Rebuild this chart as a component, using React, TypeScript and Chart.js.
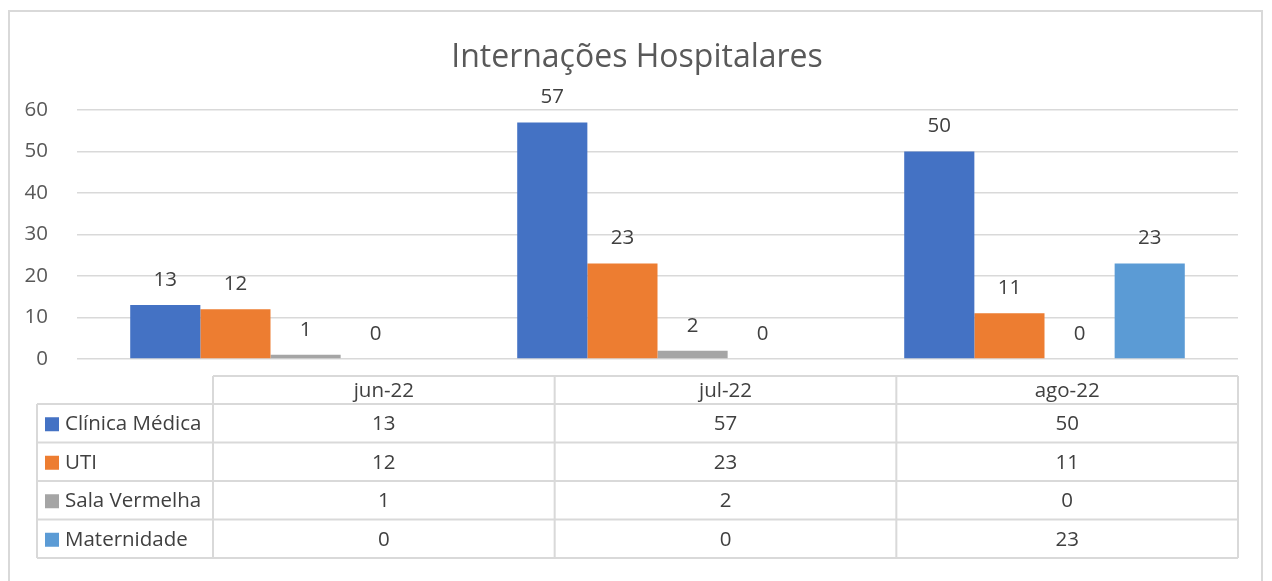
import React, { useEffect, useRef } from "react";
import { Chart, registerables } from "chart.js";

Chart.register(...registerables);

const categories = ["jun-22", "jul-22", "ago-22"];
const seriesNames = ["Clínica Médica", "UTI", "Sala Vermelha", "Maternidade"];
const clinicaMedica = [13, 57, 50];
const uti = [12, 23, 11];
const salaVermelha = [1, 2, 0];
const maternidade = [0, 0, 23];
const seriesColors = ["#4472C4", "#ED7D31", "#A5A5A5", "#5B9BD5"];
const titleText = "Internações Hospitalares";

const FONT = "'Open Sans', sans-serif";
const TEXT_SIZE = 20.5;
const TEXT_COLOR = "#404040";
const LINE_COLOR = "#D9D9D9";

const framePlugin = {
  id: "frame",
  beforeDraw(chart: any) {
    const ctx = chart.ctx;
    ctx.save();
    ctx.fillStyle = "#FFFFFF";
    ctx.fillRect(0, 0, chart.width, chart.height);
    ctx.strokeStyle = LINE_COLOR;
    ctx.lineWidth = 2;
    ctx.strokeRect(9, 11, chart.width - 19, chart.height + 10);
    ctx.font = `32px ${FONT}`;
    ctx.fillStyle = "#595959";
    ctx.textAlign = "center";
    ctx.textBaseline = "alphabetic";
    ctx.fillText(titleText, chart.width / 2 + 1, 67);
    ctx.restore();
  },
};

const valueLabelPlugin = {
  id: "valueLabels",
  afterDatasetsDraw(chart: any) {
    const ctx = chart.ctx;
    ctx.save();
    ctx.font = `${TEXT_SIZE}px ${FONT}`;
    ctx.fillStyle = TEXT_COLOR;
    ctx.textAlign = "center";
    ctx.textBaseline = "middle";
    chart.data.datasets.forEach((ds: any, di: number) => {
      const meta = chart.getDatasetMeta(di);
      meta.data.forEach((el: any, i: number) => {
        ctx.fillText(String(ds.data[i]), el.x, el.y - 25);
      });
    });
    ctx.restore();
  },
};

const dataTablePlugin = {
  id: "dataTable",
  afterDraw(chart: any) {
    const ctx = chart.ctx;
    const area = chart.chartArea;
    const right = area.right;
    const colStart = 213;
    const labelLeft = 37;
    const colW = (right - colStart) / categories.length;
    const headTop = area.bottom + 17;
    const headBottom = headTop + 28;
    const rowH = 38.5;
    const tableBottom = headBottom + rowH * seriesNames.length;

    ctx.save();
    ctx.strokeStyle = LINE_COLOR;
    ctx.lineWidth = 2;
    ctx.beginPath();
    ctx.moveTo(colStart, headTop);
    ctx.lineTo(right, headTop);
    for (let r = 0; r <= seriesNames.length; r++) {
      const y = headBottom + r * rowH;
      ctx.moveTo(labelLeft, y);
      ctx.lineTo(right, y);
    }
    ctx.moveTo(labelLeft, headBottom);
    ctx.lineTo(labelLeft, tableBottom);
    for (let c = 0; c <= categories.length; c++) {
      const x = colStart + c * colW;
      ctx.moveTo(x, headTop);
      ctx.lineTo(x, tableBottom);
    }
    ctx.stroke();

    ctx.font = `${TEXT_SIZE}px ${FONT}`;
    ctx.fillStyle = TEXT_COLOR;
    ctx.textBaseline = "middle";
    ctx.textAlign = "center";
    categories.forEach((c, i) => {
      ctx.fillText(c, colStart + colW * (i + 0.5), (headTop + headBottom) / 2 + 1);
    });
    chart.data.datasets.forEach((ds: any, r: number) => {
      const cy = headBottom + rowH * (r + 0.5) + 1;
      ctx.fillStyle = ds.backgroundColor;
      ctx.fillRect(45, cy - 7, 14, 14);
      ctx.fillStyle = TEXT_COLOR;
      ctx.textAlign = "left";
      ctx.fillText(ds.label, 65, cy);
      ctx.textAlign = "center";
      ds.data.forEach((v: number, i: number) => {
        ctx.fillText(String(v), colStart + colW * (i + 0.5), cy);
      });
    });
    ctx.restore();
  },
};

export default function App() {
  const ref = useRef<HTMLCanvasElement | null>(null);

  useEffect(() => {
    if (!ref.current) return;
    const seriesValues = [clinicaMedica, uti, salaVermelha, maternidade];
    const chart = new Chart(ref.current, {
      type: "bar",
      data: {
        labels: categories,
        datasets: seriesNames.map((name, i) => ({
          label: name,
          data: seriesValues[i],
          backgroundColor: seriesColors[i],
          borderWidth: 0,
          categoryPercentage: 0.725,
          barPercentage: 1,
        })),
      },
      options: {
        responsive: false,
        animation: false,
        events: [],
        layout: { padding: { left: 0, right: 34, top: 110, bottom: 222 } },
        plugins: {
          legend: { display: false },
          tooltip: { enabled: false },
          title: { display: false },
        },
        scales: {
          x: { display: false },
          y: {
            min: 0,
            max: 60,
            ticks: {
              stepSize: 10,
              padding: 29,
              color: "#595959",
              font: { family: FONT, size: TEXT_SIZE },
            },
            grid: { color: LINE_COLOR, lineWidth: 1.5, drawTicks: false },
            border: { display: false },
            afterFit(scale: any) {
              scale.width = 77;
            },
          },
        },
      },
      plugins: [framePlugin, valueLabelPlugin, dataTablePlugin],
    });
    return () => chart.destroy();
  }, []);

  return (
    <div style={{ position: "fixed", left: 0, top: 0, width: 1272, height: 581 }}>
      <canvas ref={ref} width={1272} height={581} style={{ display: "block" }} />
    </div>
  );
}
